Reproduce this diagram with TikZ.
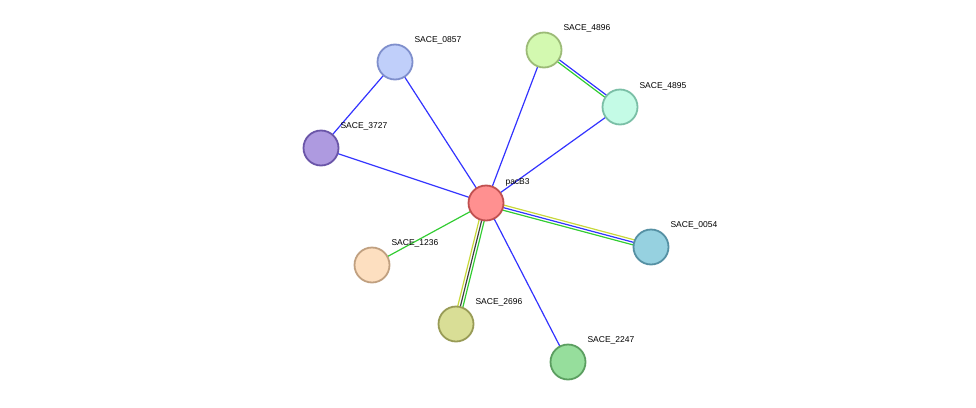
\documentclass[tikz,border=0pt]{standalone}
\usepackage{fontspec}
\setmainfont{Liberation Sans}
\usetikzlibrary{calc,backgrounds}
\definecolor{eb}{HTML}{3333FF}
\definecolor{eg}{HTML}{33CC33}
\definecolor{ey}{HTML}{C8D83A}
\definecolor{ek}{HTML}{404040}
\tikzset{
 prot/.style={circle,draw,line width=1.8pt,minimum size=35pt,inner sep=0pt},
 lab/.style={font=\fontsize{8.5}{10}\selectfont,anchor=west},
 e/.style={line width=1.2pt}
}
\newcommand{\offedge}[4]{\draw[e,#4] ($(#1)!#3!90:(#2)$) -- ($(#2)!#3!-90:(#1)$);}
\begin{document}
\begin{tikzpicture}[x=1pt,y=-1pt]
\useasboundingbox (0,0) rectangle (976,407);
\node[prot,fill={rgb,255:red,255;green,144;blue,144},draw={rgb,255:red,192;green,80;blue,80}] (p) at (486,203) {};
\node[prot,fill={rgb,255:red,192;green,207;blue,250},draw={rgb,255:red,127;green,143;blue,204}] (a) at (395,62) {};
\node[prot,fill={rgb,255:red,174;green,154;blue,224},draw={rgb,255:red,106;green,85;blue,168}] (b) at (321,148) {};
\node[prot,fill={rgb,255:red,211;green,249;blue,176},draw={rgb,255:red,156;green,187;blue,119}] (c) at (544,50) {};
\node[prot,fill={rgb,255:red,196;green,251;blue,230},draw={rgb,255:red,122;green,191;blue,166}] (d) at (620,107) {};
\node[prot,fill={rgb,255:red,150;green,209;blue,224},draw={rgb,255:red,85;green,144;blue,163}] (f) at (651,247) {};
\node[prot,fill={rgb,255:red,253;green,223;blue,192},draw={rgb,255:red,192;green,160;blue,128}] (g) at (372,265) {};
\node[prot,fill={rgb,255:red,217;green,222;blue,150},draw={rgb,255:red,152;green,155;blue,86}] (h) at (456,324) {};
\node[prot,fill={rgb,255:red,150;green,222;blue,156},draw={rgb,255:red,91;green,158;blue,96}] (i) at (568,362) {};
\begin{scope}[on background layer]
\draw[e,eb] (p.center) -- (a.center);
\draw[e,eb] (a.center) -- (b.center);
\draw[e,eb] (b.center) -- (p.center);
\draw[e,eb] (p.center) -- (c.center);
\draw[e,eb] (p.center) -- (d.center);
\draw[e,eb] (p.center) -- (i.center);
\draw[e,eg] (p.center) -- (g.center);
\offedge{c}{d}{1.3pt}{eb}
\offedge{c}{d}{-1.3pt}{eg}
\offedge{p}{f}{2.6pt}{ey}
\offedge{p}{f}{0pt}{eb}
\offedge{p}{f}{-2.6pt}{eg}
\offedge{p}{h}{-2.6pt}{ey}
\offedge{p}{h}{0pt}{ek}
\offedge{p}{h}{2.6pt}{eg}
\end{scope}
\node[lab] at ($(p)+(16,-21)$) {pacB3};
\node[lab] at ($(a)+(16,-22)$) {SACE\_0857};
\node[lab] at ($(b)+(16,-22)$) {SACE\_3727};
\node[lab] at ($(c)+(16,-22)$) {SACE\_4896};
\node[lab] at ($(d)+(16,-21)$) {SACE\_4895};
\node[lab] at ($(f)+(16,-22)$) {SACE\_0054};
\node[lab] at ($(g)+(16,-22)$) {SACE\_1236};
\node[lab] at ($(h)+(16,-22)$) {SACE\_2696};
\node[lab] at ($(i)+(16,-22)$) {SACE\_2247};
\end{tikzpicture}
\end{document}
